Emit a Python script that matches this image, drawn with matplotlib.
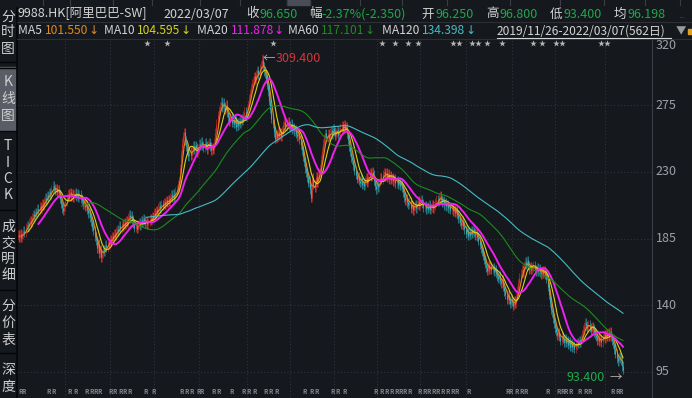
import matplotlib
matplotlib.use("Agg")
import matplotlib.pyplot as plt
import matplotlib.transforms as mtransforms
import numpy as np
import pandas as pd

plt.rcParams['font.family'] = ['Noto Sans CJK SC', 'DejaVu Sans']

# daily closes 2019/11/26 - 2022/03/07 (562 days)
closes = [
    187.6, 186.0, 188.2, 185.5, 187.9, 190.4, 189.1, 192.5, 194.0, 193.2,
    195.8, 197.1, 196.0, 199.3, 201.5, 200.2, 203.0, 202.4, 205.1, 204.0,
    206.8, 205.2, 208.5, 207.0, 210.3, 212.6, 211.0, 214.2, 213.1, 216.5,
    215.0, 218.4, 220.6, 219.2, 217.5, 218.8, 216.2, 217.9, 215.6, 212.0,
    208.4, 205.6, 203.8, 206.5, 210.2, 212.8, 215.4, 214.0, 216.3, 213.5,
    215.2, 212.6, 214.8, 216.0, 213.4, 215.5, 212.9, 214.6, 211.8, 210.5,
    208.2, 209.6, 206.4, 207.8, 204.5, 202.0, 203.6, 199.5, 196.8, 193.0,
    190.5, 186.2, 184.0, 178.5, 181.6, 175.2, 177.8, 172.5, 174.6, 178.0,
    176.4, 180.8, 179.2, 182.5, 181.0, 184.6, 183.2, 186.8, 185.5, 188.4,
    187.0, 189.8, 191.5, 190.2, 193.6, 192.0, 194.8, 193.4, 195.6, 194.5,
    197.2, 196.0, 199.5, 201.2, 198.6, 200.4, 197.8, 195.0, 192.4, 193.6,
    191.8, 194.5, 196.2, 194.0, 197.5, 195.8, 198.6, 197.0, 195.4, 196.8,
    194.6, 196.2, 198.4, 197.0, 200.2, 199.0, 202.5, 201.2, 204.0, 203.2,
    205.8, 207.2, 205.5, 208.4, 207.0, 209.6, 208.2, 210.8, 209.5, 211.4,
    210.2, 212.8, 214.6, 213.0, 215.2, 212.4, 216.8, 218.5, 221.6, 224.0,
    232.5, 241.8, 249.6, 254.2, 256.8, 251.0, 247.4, 244.2, 240.6, 243.8,
    241.2, 244.6, 247.8, 245.0, 248.2, 246.5, 243.0, 245.8, 249.2, 247.6,
    250.4, 248.0, 246.2, 249.6, 247.8, 245.2, 248.6, 250.0, 247.2, 244.6,
    246.8, 245.0, 249.8, 256.4, 262.5, 268.2, 271.6, 274.0, 277.5, 273.2,
    276.8, 274.4, 272.0, 275.5, 270.2, 266.8, 264.0, 267.6, 263.2, 265.0,
    262.4, 265.8, 260.6, 263.4, 261.0, 264.2, 262.8, 266.0, 264.5, 268.2,
    270.6, 267.4, 271.8, 275.2, 279.6, 283.0, 286.4, 289.8, 291.0, 294.5,
    292.2, 296.0, 298.8, 295.4, 299.6, 302.2, 305.8, 301.5, 298.0, 296.4,
    292.8, 289.0, 284.5, 278.2, 272.6, 266.0, 262.4, 256.8, 252.5, 255.6,
    253.2, 257.0, 254.4, 256.8, 253.6, 258.2, 261.5, 263.8, 260.6, 262.4,
    264.0, 261.2, 259.8, 262.6, 258.4, 260.2, 257.6, 259.0, 255.8, 254.2,
    256.6, 252.0, 248.4, 244.6, 240.2, 236.8, 232.4, 229.8, 226.5, 222.8,
    224.6, 218.2, 212.5, 226.0, 221.4, 219.6, 226.8, 223.0, 227.4, 229.2,
    232.6, 238.4, 244.0, 249.2, 252.6, 256.0, 253.4, 255.8, 252.2, 256.6,
    258.2, 255.0, 259.4, 257.2, 254.6, 256.8, 258.0, 255.2, 257.6, 259.8,
    261.4, 258.6, 262.2, 259.0, 260.4, 256.2, 251.8, 247.2, 243.6, 240.0,
    238.4, 234.6, 230.8, 228.2, 225.4, 227.0, 224.2, 222.6, 225.8, 221.4,
    223.0, 220.6, 224.4, 226.2, 222.8, 227.4, 229.6, 226.8, 230.2, 228.0,
    224.2, 220.8, 218.4, 222.0, 219.6, 223.2, 226.0, 224.6, 228.4, 230.0,
    227.2, 229.6, 226.4, 228.8, 225.2, 227.6, 224.8, 226.4, 223.6, 225.8,
    222.4, 224.6, 221.2, 223.4, 220.6, 222.8, 219.4, 216.2, 213.0, 210.8,
    212.4, 209.6, 207.8, 210.2, 205.6, 207.4, 204.2, 206.8, 208.4, 205.6,
    208.0, 210.6, 207.4, 209.8, 211.2, 208.6, 206.2, 207.6, 204.8, 206.4,
    205.2, 207.8, 204.6, 206.2, 208.0, 205.4, 207.2, 209.6, 211.4, 210.0,
    212.8, 214.0, 211.6, 209.4, 210.8, 207.6, 209.2, 206.8, 208.4, 205.6,
    207.0, 204.4, 206.2, 203.4, 205.0, 202.6, 204.2, 201.0, 198.8, 199.6,
    196.4, 194.2, 197.0, 193.6, 191.2, 188.4, 190.6, 186.8, 189.4, 187.6,
    190.8, 188.2, 191.6, 189.0, 187.4, 189.8, 186.2, 183.6, 181.0, 178.4,
    176.2, 173.4, 170.8, 168.2, 165.6, 163.4, 167.0, 164.2, 166.4, 163.8,
    165.6, 162.8, 164.4, 161.2, 159.6, 157.8, 160.2, 156.4, 154.8, 157.2,
    152.6, 149.4, 147.0, 144.2, 146.8, 143.6, 141.2, 144.0, 142.4, 139.8,
    143.2, 141.0, 145.6, 150.2, 154.8, 158.6, 161.4, 164.0, 162.2, 166.8,
    169.4, 167.2, 170.6, 166.8, 164.4, 166.2, 163.8, 165.6, 167.0, 164.2,
    162.8, 165.4, 163.0, 164.8, 162.2, 160.8, 163.6, 161.4, 163.2, 160.6,
    157.8, 152.4, 147.2, 141.6, 137.0, 135.4, 131.2, 128.0, 124.6, 122.2,
    119.8, 121.4, 118.6, 116.2, 119.0, 117.4, 115.0, 117.6, 114.8, 116.2,
    113.4, 115.8, 112.2, 114.6, 111.8, 113.0, 110.6, 112.8, 115.2, 114.0,
    116.4, 114.8, 117.6, 120.2, 123.4, 125.8, 128.2, 126.4, 124.8, 127.0,
    125.2, 122.8, 126.0, 124.4, 121.8, 120.2, 118.6, 116.4, 118.0, 115.6,
    117.2, 115.0, 118.6, 120.4, 117.8, 120.8, 119.2, 121.6, 118.8, 122.4,
    118.6, 116.0, 114.0, 110.4, 107.2, 104.4, 102.2, 105.2, 104.0, 102.9,
    99.0, 96.65,
]
first_open = 187.0
hi_idx, hi_val = 226, 309.4
lo_idx, lo_val = 561, 93.4

ma_windows = [5, 10, 20, 60, 120]
ma_names = ["MA5", "MA10", "MA20", "MA60", "MA120"]
ma_last = ["101.550", "104.595", "111.878", "117.101", "134.398"]
ma_colors = ["#e08a20", "#d8d21c", "#f020f0", "#1c8c1c", "#45bcc4"]
ma_widths = [0.8, 0.8, 1.4, 0.8, 0.8]

price_ticks = [95, 140, 185, 230, 275, 320]
month_idx = [44, 85, 126, 168, 212, 252, 293, 333, 373, 415, 458, 498, 544]
# (candle index, number of stars)
star_marks = [(120, 1), (138, 1), (237, 1), (338, 1), (350, 1), (362, 1),
              (371, 1), (407, 2), (424, 2), (435, 1), (449, 1), (478, 1),
              (486, 1), (502, 2), (544, 2)]
rr_idx = [2, 5, 28, 33, 48, 53, 64, 68, 72, 76, 86, 90, 95, 99, 103, 118, 126,
          152, 156, 161, 167, 170, 181, 186, 198, 209, 214, 219, 230, 234, 240,
          266, 272, 277, 292, 296, 303, 332, 337, 342, 346, 351, 355, 358, 363,
          372, 377, 381, 385, 389, 394, 398, 403, 407, 418, 454, 457, 462, 467,
          471, 491, 501, 505, 508, 512, 521, 526, 530, 551, 556, 559]

bg = "#15181d"
W, H = 692, 398

fig = plt.figure(figsize=(W / 100, H / 100), dpi=100, facecolor=bg)


def put(x, y, s, color="#d4d4d4", size=9, **kw):
    return fig.text(x / W, 1 - y / H, s, color=color, fontsize=size, va="center", **kw)


ax = fig.add_axes([17 / W, 0, (652 - 17) / W, (H - 38) / H], facecolor=bg)
c = np.array(closes)
o = np.r_[first_open, c[:-1]]
hi = np.maximum(o, c) + 3.0
lo = np.minimum(o, c) - 3.0
hi[hi_idx] = hi_val
lo[lo_idx] = lo_val
x = np.arange(len(c))
up = c >= o

for tk in price_ticks:
    ax.axhline(tk, color="#30343b", lw=0.8, ls=(0, (1, 2)), zorder=0)
for mi in month_idx:
    ax.axvline(mi, color="#30343b", lw=0.8, ls=(0, (1, 2)), zorder=0)

for mask, col in [(up, "#c42a28"), (~up, "#35a9b5")]:
    ax.vlines(x[mask], lo[mask], hi[mask], color=col, lw=0.45, zorder=2)
    ax.vlines(x[mask], np.minimum(o, c)[mask], np.maximum(o, c)[mask],
              color=col, lw=0.8, zorder=2)

s = pd.Series(c)
for w, col, lw in zip(ma_windows, ma_colors, ma_widths):
    ax.plot(x, s.rolling(w).mean(), color=col, lw=lw, zorder=3)

ax.set_xlim(-0.93, 587.9)
ax.set_ylim(77.45, 320.4)
for sp in ["top", "left", "bottom"]:
    ax.spines[sp].set_visible(False)
ax.spines["right"].set_color("#3a3e46")
ax.set_xticks([])
ax.set_yticks([])

# price labels on the right
for tk in price_ticks:
    ax.text(1.006, tk, str(tk), transform=ax.get_yaxis_transform(),
            color="#9da0a6", fontsize=9, va="top" if tk == 320 else "center",
            ha="left", clip_on=False)

trans = mtransforms.blended_transform_factory(ax.transData, ax.transAxes)
for si, n in star_marks:
    ax.text(si, 0.983, "★" * n, transform=trans, color="#b4b4b4", fontsize=5,
            ha="center", va="center")
for ri in rr_idx:
    ax.text(ri, 0.019, "R", transform=trans, color="#85888e", fontsize=4.5,
            ha="center", va="center", fontweight="bold")

# extreme price markers
ax.annotate("←", (hi_idx + 1, hi_val), xytext=(0, -3), textcoords="offset points",
            color="#b0b0b0", fontsize=9, va="center", ha="left")
ax.annotate("%.3f" % hi_val, (hi_idx + 1, hi_val), xytext=(9, -3),
            textcoords="offset points", color="#d9343a", fontsize=9,
            va="center", ha="left")
ax.annotate("→", (lo_idx - 1, lo_val), xytext=(0, -2), textcoords="offset points",
            color="#b0b0b0", fontsize=9, va="center", ha="right")
ax.annotate("%.3f" % lo_val, (lo_idx - 1, lo_val), xytext=(-12, -2),
            textcoords="offset points", color="#1faa4c", fontsize=9,
            va="center", ha="right")

# left side tabs
fig.patches.append(plt.Rectangle((0, 1 - 130 / H), 16 / W, 63 / H,
                                 transform=fig.transFigure, color="#5a5d65"))
fig.add_artist(plt.Line2D([16.5 / W] * 2, [0, 1 - 8 / H], transform=fig.transFigure,
                          color="#050607", lw=1.2))
for yy in [62, 67.5, 131, 210, 290, 353]:
    fig.add_artist(plt.Line2D([0, 16 / W], [1 - yy / H] * 2,
                              transform=fig.transFigure, color="#050607", lw=1))
tabs = [("分", 17), ("时", 32), ("图", 49), ("K", 82), ("线", 99), ("图", 116),
        ("T", 146), ("I", 163), ("C", 179), ("K", 195), ("成", 227), ("交", 243),
        ("明", 259), ("细", 275), ("分", 306), ("价", 323), ("表", 340),
        ("深", 370), ("度", 387)]
for ch, yy in tabs:
    put(8, yy, ch, color="#cfcfcf", size=10, ha="center")

# header lines
fig.add_artist(plt.Line2D([17 / W, 1], [1 - 22 / H] * 2, transform=fig.transFigure,
                          color="#2c2f35", lw=0.8))
fig.add_artist(plt.Line2D([17 / W, 1], [1 - 38.5 / H] * 2, transform=fig.transFigure,
                          color="#2c2f35", lw=0.8))
fig.patches.append(plt.Rectangle((287 / W, 1 - 5 / H), 23 / W, 5 / H,
                                 transform=fig.transFigure, color="#4a4d55"))
for sx in [43, 70, 113, 152, 200, 240, 287, 310, 360, 402, 447, 510, 560, 604, 645, 680]:
    fig.add_artist(plt.Line2D([sx / W] * 2, [1 - 5 / H, 1], transform=fig.transFigure,
                              color="#3a3d44", lw=0.8))

green = "#1fa84a"
put(18, 14, "9988.HK[阿里巴巴-SW]")
put(163, 14, "2022/03/07")
put(246, 14, "收")
put(259, 14, "96.650", color=green)
put(309, 14, "幅")
put(321, 14, "-2.37%(-2.350)", color=green)
put(421, 14, "开")
put(436, 14, "96.250", color=green)
put(486, 14, "高")
put(500, 14, "96.800", color=green)
put(550, 14, "低")
put(563, 14, "93.400", color=green)
put(614, 14, "均")
put(627, 14, "96.198", color=green)
put(678, 16, "...", color="#c0302c", size=6)

ma_x = [18, 104, 197, 288, 382]
fig.canvas.draw()
rend = fig.canvas.get_renderer()
for mx, name, val, col in zip(ma_x, ma_names, ma_last, ma_colors):
    t = put(mx, 31, name + " ", size=8.7)
    bb = t.get_window_extent(renderer=rend)
    v = put(bb.x1, 31, val, color=col, size=8.7)
    bb2 = v.get_window_extent(renderer=rend)
    put(bb2.x1, 31, "↓", color=col, size=8.7, family=["DejaVu Sans"])
put(497, 31, "2019/11/26-2022/03/07(562日)", size=8.6)
fig.add_artist(plt.Line2D([497 / W, 671 / W], [1 - 37.5 / H] * 2,
                          transform=fig.transFigure, color="#d4d4d4", lw=0.8))
put(676, 31, "▼", color="#9a9a9a", size=7.5)
fig.patches.append(plt.Rectangle((688 / W, 1 - 34 / H), 4 / W, 5 / H,
                                 transform=fig.transFigure, color="#e0a020"))

fig.savefig("out.png", dpi=100, facecolor=bg)
